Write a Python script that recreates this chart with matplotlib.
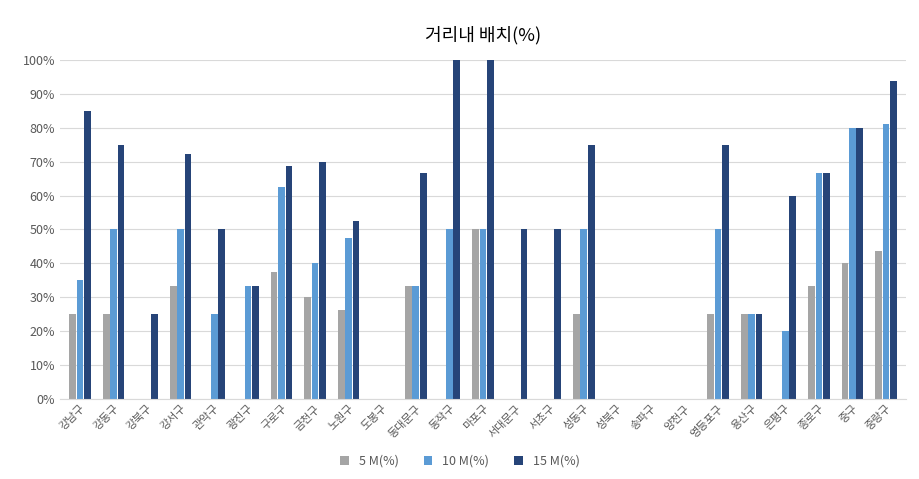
import matplotlib
matplotlib.use("Agg")
import matplotlib.pyplot as plt
import numpy as np

plt.rcParams['font.family'] = ['Noto Sans CJK KR', 'DejaVu Sans']

categories = ["강남구","강동구","강북구","강서구","관악구","광진구","구로구","금천구","노원구","도봉구",
              "동대문구","동작구","마포구","서대문구","서초구","성동구","성북구","송파구","양천구","영등포구",
              "용산구","은평구","종로구","중구","중랑구"]
m5 = [25,25,0,33.3,0,0,37.5,30,26.3,0,33.3,0,50,0,0,25,0,0,0,25,25,0,33.3,40,43.75]
m10 = [35,50,0,50,25,33.3,62.5,40,47.4,0,33.3,50,50,0,0,50,0,0,0,50,25,20,66.7,80,81.25]
m15 = [85,75,25,72.2,50,33.3,68.75,70,52.6,0,66.7,100,100,50,50,75,0,0,0,75,25,60,66.7,80,93.75]
series_names = ["5 M(%)", "10 M(%)", "15 M(%)"]
colors = ["#A5A5A5", "#5B9BD5", "#264478"]

fig = plt.figure(figsize=(9.2, 4.79), dpi=100)
ax = fig.add_axes([0.065, 0.168, 0.92, 0.706])
x = np.arange(len(categories))
w = 0.2
for i, (vals, name, c) in enumerate(zip([m5, m10, m15], series_names, colors)):
    ax.bar(x + (i - 1) * (w + 0.02), vals, w, color=c, label=name)

ax.set_xlim(-0.6, len(categories) - 0.4)
ax.set_ylim(0, 100)
ax.set_yticks(range(0, 101, 10))
ax.set_yticklabels([f"{v}%" for v in range(0, 101, 10)], fontsize=9, color="#595959")
ax.set_xticks(x)
ax.set_xticklabels(categories, rotation=45, ha="right", rotation_mode="anchor", fontsize=8, color="#595959")
ax.tick_params(length=0)
ax.grid(axis="y", color="#D9D9D9", linewidth=0.8)
ax.set_axisbelow(True)
for s in ["top", "right", "left"]:
    ax.spines[s].set_visible(False)
ax.spines["bottom"].set_color("#D9D9D9")
ax.set_title("거리내 배치(%)", fontsize=13, pad=14)
fig.legend(loc="lower center", ncol=3, frameon=False, fontsize=9, bbox_to_anchor=(0.5, 0.0),
           handlelength=0.7, handleheight=0.7, labelcolor="#595959")
fig.savefig("out.png", dpi=100)
